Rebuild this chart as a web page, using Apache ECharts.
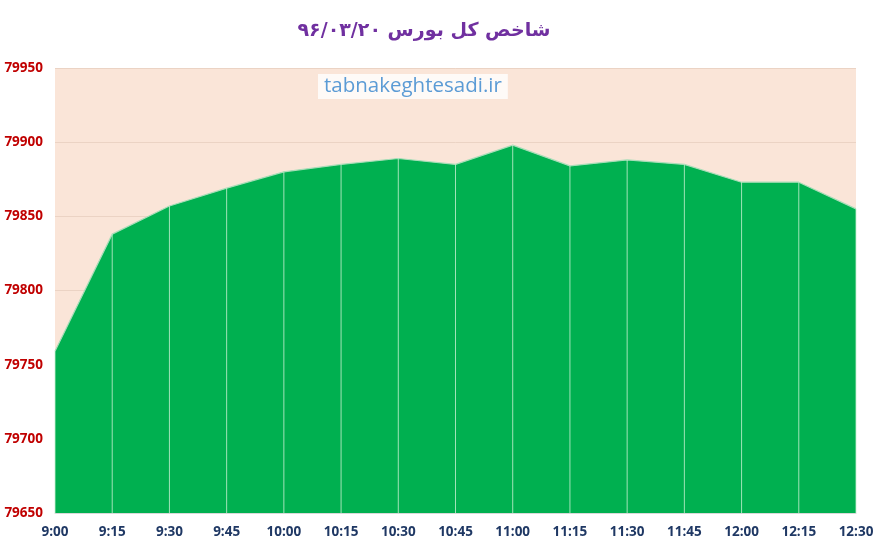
<!DOCTYPE html>
<html><head><meta charset="utf-8">
<script src="https://cdn.jsdelivr.net/npm/echarts@6/dist/echarts.min.js"></script>
<style>html,body{margin:0;padding:0;background:#fff}#c{width:878px;height:544px}</style>
</head><body><div id="c"></div>
<script>
const categories = ['9:00','9:15','9:30','9:45','10:00','10:15','10:30','10:45','11:00','11:15','11:30','11:45','12:00','12:15','12:30'];
const values = [79759, 79838, 79857, 79869, 79880, 79885, 79889, 79885, 79898, 79884, 79888, 79885, 79873, 79873, 79855];
const yMin = 79650, yMax = 79950, yStep = 50;
const titleText = '۹۶/۰۳/۲۰ شاخص کل بورس';
const watermark = 'tabnakeghtesadi.ir';

const chart = echarts.init(document.getElementById('c'));
chart.setOption({
  animation: false,
  graphic: [
    { type: 'text', x: 424, y: 31, style: { text: titleText, font: 'bold 19px "DejaVu Sans"', fill: '#7030A0', align: 'center', verticalAlign: 'middle' } },
    { type: 'text', left: 318, top: 74, z: 10, style: { text: watermark, font: '20.5px "Open Sans"', fill: '#5B9BD5',
      backgroundColor: 'rgba(255,255,255,0.8)', padding: [2, 6, 2, 6] } }
  ],
  grid: { left: 55, right: 22, top: 68, bottom: 31, show: true, backgroundColor: '#FAE5D8', borderWidth: 0 },
  xAxis: {
    type: 'category', data: categories, boundaryGap: false,
    axisLine: { lineStyle: { color: '#D9D9D9' } }, axisTick: { show: false },
    axisLabel: { color: '#1F3864', fontWeight: 'bold', fontSize: 13.5, fontFamily: 'Open Sans', margin: 12, interval: 0 },
    splitLine: { show: false }
  },
  yAxis: {
    type: 'value', min: yMin, max: yMax, interval: yStep,
    axisLine: { show: false }, axisTick: { show: false },
    axisLabel: { color: '#C00000', fontWeight: 'bold', fontSize: 13.5, fontFamily: 'Open Sans', margin: 12,
      formatter: v => String(v) },
    splitLine: { lineStyle: { color: '#EBD3C4' } }
  },
  series: [
    { type: 'line', data: values, symbol: 'none', z: 2,
      lineStyle: { color: '#A8DDB8', width: 1.2 }, areaStyle: { color: '#00B050', opacity: 1 } },
    { type: 'bar', data: values, barWidth: 1, z: 3, silent: true,
      itemStyle: { color: 'rgba(200,240,210,0.8)' } }
  ]
});
</script></body></html>
